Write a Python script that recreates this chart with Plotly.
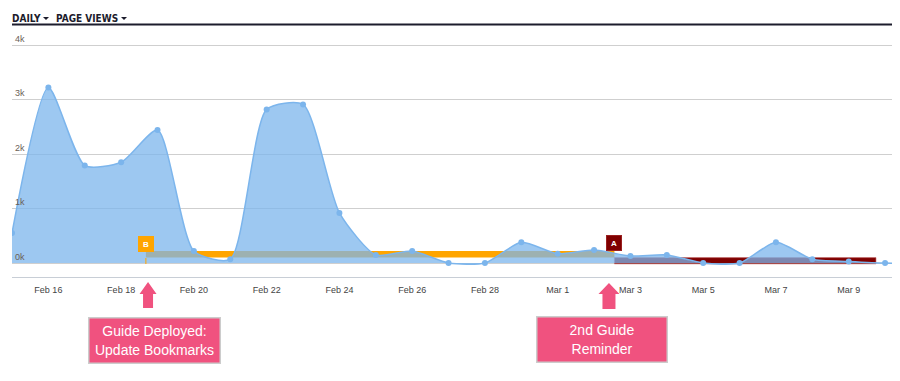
import plotly.graph_objects as go
import pandas as pd

# ---- data ----
dates = pd.date_range("2016-02-15", "2016-03-11", freq="D")
page_views = [550, 3220, 1790, 1850, 2440, 220, 70, 2820, 2910, 920, 150, 220, 0, 0,
              380, 170, 240, 130, 150, 0, 0, 380, 70, 30, 0, 0]
y_ticks = [0, 1000, 2000, 3000, 4000]
y_tick_labels = ["0k", "1k", "2k", "3k", "4k"]
x_ticks = pd.date_range("2016-02-16", "2016-03-09", freq="2D")

# flags / guide events
flag_b_date = pd.Timestamp("2016-02-18 16:20")
flag_a_date = pd.Timestamp("2016-03-02 13:25")
flag_a_end = pd.Timestamp("2016-03-09 18:00")
arrow1_date = pd.Timestamp("2016-02-18 17:45")
arrow2_date = pd.Timestamp("2016-03-02 09:50")
box1_date = pd.Timestamp("2016-02-18 22:20")
box2_date = pd.Timestamp("2016-03-02 05:00")
box1_text = "Guide Deployed:<br>Update Bookmarks"
box2_text = "2nd Guide<br>Reminder"

# page body has an 8px default margin; compensate so screen pixels match
OFF = 8
W, H = 900 - OFF, 381 - OFF
Y_MIN, Y_MAX = -256, 4350
PX_PER_UNIT = (263 - 45) / 4000
PB = 277
PT = round(PB - (Y_MAX - Y_MIN) * PX_PER_UNIT)

def py(px):
    return (PB - px) / (PB - PT)

def px_x(px):
    return (px - 12) / 888

fig = go.Figure()
fig.add_trace(go.Scatter(
    x=dates, y=page_views, mode="lines+markers",
    line=dict(shape="spline", smoothing=0.65, color="#7CB5EC", width=1.5),
    marker=dict(size=6, color="#7CB5EC"),
    fill="tozeroy", fillcolor="rgba(124,181,236,0.75)",
    hoverinfo="skip", showlegend=False,
))

shapes = [
    dict(type="rect", xref="x", yref="y", x0=flag_b_date, x1=flag_a_date, y0=100, y1=220,
         fillcolor="#FFA500", line=dict(width=0), layer="between"),
    dict(type="rect", xref="x", yref="y", x0=flag_a_date, x1=flag_a_end, y0=-15, y1=100,
         fillcolor="#7F0000", line=dict(width=1, color="rgba(200,110,110,0.6)"), layer="between"),
    dict(type="line", xref="x", yref="paper", x0=flag_b_date, x1=flag_b_date,
         y0=py(264), y1=py(258), line=dict(color="#FFA500", width=1)),
    dict(type="line", xref="paper", yref="paper", x0=0, x1=1, y0=py(24.5), y1=py(24.5),
         line=dict(color="#1C1C2C", width=2)),
]

def arrow(date, head_w, shaft_w, tip_px, base_px, bottom_px):
    h = base_px - tip_px
    s = bottom_px - base_px
    path = (f"M {-shaft_w/2} {-s} L {shaft_w/2} {-s} L {shaft_w/2} 0 L {head_w/2} 0 "
            f"L 0 {h} L {-head_w/2} 0 L {-shaft_w/2} 0 Z")
    return dict(type="path", xref="x", yref="paper", xsizemode="pixel", ysizemode="pixel",
                xanchor=date, yanchor=py(base_px), path=path,
                fillcolor="#F0527F", line=dict(width=0))

shapes.append(arrow(arrow1_date, 17, 10, 282, 294, 308))
shapes.append(arrow(arrow2_date, 21, 13, 283, 294, 309))

# caret glyphs in the header, drawn as small triangles
def caret(cx, cy):
    return dict(type="path", xref="paper", yref="paper", xsizemode="pixel", ysizemode="pixel",
                xanchor=px_x(cx), yanchor=py(cy), path="M -3 1.5 L 3 1.5 L 0 -1.5 Z",
                fillcolor="#1C1C2C", line=dict(width=0))

shapes.append(caret(46, 18.5))
shapes.append(caret(124, 18.5))

hdr_font = dict(color="#1C1C2C", size=10, family="DejaVu Sans Condensed", weight="bold")

annotations = [
    dict(text="<b>B</b>", xref="x", yref="paper", x=flag_b_date, y=py(251.5),
         showarrow=False, bgcolor="#FFA500", bordercolor="#FFA500", borderwidth=1,
         borderpad=0, width=14, height=14, font=dict(color="white", size=8, family="Arial")),
    dict(text="<b>A</b>", xref="x", yref="paper", x=flag_a_date, y=py(251),
         showarrow=False, bgcolor="#7F0000", bordercolor="#9A2020", borderwidth=1,
         borderpad=0, width=14, height=14, font=dict(color="white", size=8, family="Arial")),
    dict(text=box1_text, xref="x", yref="paper", x=box1_date, y=py(317), yanchor="top",
         showarrow=False, bgcolor="#F0527F", bordercolor="#CCCCCC", borderwidth=1.5,
         borderpad=0, width=130, height=44,
         font=dict(color="white", size=14, family="Liberation Sans, Arial")),
    dict(text=box2_text, xref="x", yref="paper", x=box2_date, y=py(316), yanchor="top",
         showarrow=False, bgcolor="#F0527F", bordercolor="#CCCCCC", borderwidth=1.5,
         borderpad=0, width=129, height=44,
         font=dict(color="white", size=14, family="Liberation Sans, Arial")),
    dict(text="DAILY", xref="paper", yref="paper",
         x=px_x(10), y=py(18), xanchor="left", yanchor="middle", showarrow=False, font=hdr_font),
    dict(text="PAGE VIEWS", xref="paper", yref="paper",
         x=px_x(54), y=py(18), xanchor="left", yanchor="middle", showarrow=False, font=hdr_font),
]

fig.update_layout(
    width=W, height=H,
    margin=dict(l=12 - OFF, r=0, t=PT - OFF, b=H - (PB - OFF), pad=0),
    paper_bgcolor="white", plot_bgcolor="white",
    shapes=shapes, annotations=annotations,
    xaxis=dict(type="date", range=[pd.Timestamp("2016-02-15"), pd.Timestamp("2016-03-10 09:50")],
               tickvals=x_ticks, tickformat="%b %-d", showgrid=False, zeroline=False,
               showline=True, linecolor="#C8CED6", linewidth=1,
               ticks="outside", ticklen=4, tickcolor="rgba(0,0,0,0)",
               tickfont=dict(size=9, color="#444", family="Liberation Sans, Arial")),
    yaxis=dict(range=[Y_MIN, Y_MAX], tickvals=y_ticks, ticktext=y_tick_labels,
               ticklabelposition="inside top", showgrid=True, gridcolor="#CFCFCF",
               gridwidth=1, zeroline=False, showline=False,
               tickfont=dict(size=9, color="#6B5E55", family="Liberation Sans, Arial")),
)

fig.write_html("out.html")
